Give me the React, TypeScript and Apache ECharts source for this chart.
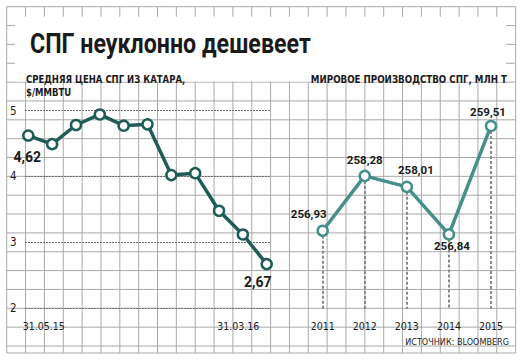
import React, { useEffect, useRef } from 'react';
import * as echarts from 'echarts';

// ---- data ----
const priceDates = ['31.05.15', '30.06.15', '31.07.15', '31.08.15', '30.09.15', '31.10.15', '30.11.15', '31.12.15', '31.01.16', '29.02.16', '31.03.16'];
const priceValues = [4.62, 4.49, 4.78, 4.94, 4.77, 4.79, 4.02, 4.05, 3.48, 3.12, 2.67];
const priceTicks = [2, 3, 4, 5];
const prodYears = ['2011', '2012', '2013', '2014', '2015'];
const prodValues = [256.93, 258.28, 258.01, 256.84, 259.51];

const TITLE = 'СПГ неуклонно дешевеет';
const SUB_LEFT_1 = 'СРЕДНЯЯ ЦЕНА СПГ ИЗ КАТАРА,';
const SUB_LEFT_2 = '$/MMBTU';
const SUB_RIGHT = 'МИРОВОЕ ПРОИЗВОДСТВО СПГ, МЛН Т';
const SOURCE = 'ИСТОЧНИК: BLOOMBERG';

// label placement (layout only)
const priceLabelOffsets: Record<number, [number, number]> = { 0: [-1, 21], 10: [-9, 18] };
const prodLabelOffsets: [number, number][] = [[-14, -17], [0, -16], [9, -17], [3, 12], [-3, -14]];

const NARROW = '"Liberation Sans Narrow", "DejaVu Sans Condensed", "Roboto", sans-serif';
const GRID_COLOR = '#a9a9a9';
const DARK = '#1f5c57';
const MID = '#45908a';
const TEXT = '#1a1a1a';

const fmt = (v: number) => v.toFixed(2).replace('.', ',');

function buildBackground() {
  const els: any[] = [];
  const x0 = 6.7, y0 = 6.7, cell = 18.85, cols = 27, rows = 18, bottom = 353;
  const right = x0 + cell * cols;
  for (let i = 0; i <= cols; i++) {
    const x = x0 + cell * i;
    els.push({ type: 'line', silent: true, z: -10, shape: { x1: x, y1: y0, x2: x, y2: bottom }, style: { stroke: GRID_COLOR, lineWidth: 1 } });
  }
  for (let j = 0; j <= rows; j++) {
    const y = y0 + cell * j;
    els.push({ type: 'line', silent: true, z: -10, shape: { x1: x0, y1: y, x2: right, y2: y }, style: { stroke: GRID_COLOR, lineWidth: 1 } });
  }
  els.push({ type: 'line', silent: true, z: -10, shape: { x1: x0, y1: bottom, x2: right, y2: bottom }, style: { stroke: GRID_COLOR, lineWidth: 1 } });
  els.push({ type: 'rect', silent: true, z: -9, shape: { x: 15, y: 16.7, width: 491, height: 64.9 }, style: { fill: '#ffffff' } });
  els.push({ type: 'text', z: 10, x: 30, y: 43.5, scaleX: 0.86, style: { text: TITLE, fill: TEXT, font: 'bold 27px Roboto, "DejaVu Sans", sans-serif', verticalAlign: 'middle' } });
  els.push({ type: 'text', z: 10, x: 26, y: 78.5, scaleX: 0.86, style: { text: SUB_LEFT_1, fill: TEXT, font: `bold 11px ${NARROW}`, verticalAlign: 'middle' } });
  els.push({ type: 'text', z: 10, x: 26, y: 92, scaleX: 0.86, style: { text: SUB_LEFT_2, fill: TEXT, font: `bold 11px ${NARROW}`, verticalAlign: 'middle' } });
  els.push({ type: 'text', z: 10, x: 507, y: 78.5, scaleX: 0.88, style: { text: SUB_RIGHT, fill: TEXT, font: `bold 11px ${NARROW}`, align: 'right', verticalAlign: 'middle' } });
  els.push({ type: 'text', z: 10, x: 509, y: 342, style: { text: SOURCE, fill: TEXT, font: `9px ${NARROW}`, align: 'right', verticalAlign: 'middle' } });
  return els;
}

export default function App() {
  const ref = useRef<HTMLDivElement>(null);
  useEffect(() => {
    if (!ref.current) return;
    const chart = echarts.init(ref.current, undefined, { renderer: 'svg' });
    const lastIdx = priceDates.length - 1;
    const option: any = {
      animation: false,
      backgroundColor: '#ffffff',
      graphic: buildBackground(),
      grid: [
        { left: 28.3, right: 257.3, top: 110.5, bottom: 54.7 },
        { left: 25, right: 254, top: 110.5, bottom: 54.7 },
        { left: 322.7, right: 33, top: 106.05, bottom: 53.9 },
      ],
      xAxis: [
        {
          gridIndex: 0,
          type: 'category',
          data: priceDates,
          boundaryGap: false,
          axisLine: { show: false },
          axisTick: { show: false },
          splitLine: { show: false },
          axisLabel: {
            interval: (i: number) => i === 0 || i === lastIdx,
            margin: 12,
            color: TEXT,
            fontSize: 10.5,
            fontFamily: NARROW,
            formatter: (v: string, i: number) => (i === 0 ? `{a|${v}}` : `{b|${v}}`),
            rich: {
              a: { padding: [0, 0, 0, 31], fontSize: 10.5, fontFamily: NARROW, color: TEXT },
              b: { padding: [0, 57, 0, 0], fontSize: 10.5, fontFamily: NARROW, color: TEXT },
            },
          },
        },
        { gridIndex: 1, type: 'value', show: false, min: 0, max: 1 },
        {
          gridIndex: 2,
          type: 'category',
          data: prodYears,
          boundaryGap: false,
          axisLine: { show: false },
          axisTick: { show: false },
          splitLine: { show: false },
          axisLabel: { margin: 11, color: TEXT, fontSize: 10.5, fontFamily: NARROW },
        },
      ],
      yAxis: [
        { gridIndex: 0, type: 'value', min: 2, max: 5, show: false },
        {
          gridIndex: 1,
          type: 'value',
          min: priceTicks[0],
          max: priceTicks[priceTicks.length - 1],
          interval: 1,
          axisLine: { show: false },
          axisTick: { show: false },
          axisLabel: { align: 'left', margin: 15, color: TEXT, fontSize: 11.5, fontFamily: NARROW },
          splitLine: { show: true, lineStyle: { color: '#6f6f6f', type: [2, 1], width: 1 } },
        },
        { gridIndex: 2, type: 'value', min: 255, max: 260, show: false },
      ],
      series: [
        {
          type: 'line',
          xAxisIndex: 0,
          yAxisIndex: 0,
          data: priceValues.map((v, i) => ({
            value: v,
            label: priceLabelOffsets[i]
              ? { show: true, position: 'inside', offset: priceLabelOffsets[i] }
              : { show: false },
          })),
          symbol: 'circle',
          symbolSize: 10,
          lineStyle: { color: DARK, width: 3.5 },
          itemStyle: { color: '#ffffff', borderColor: DARK, borderWidth: 2.5 },
          label: {
            color: TEXT,
            fontFamily: 'Roboto, sans-serif',
            fontWeight: 'bold',
            fontSize: 14,
            formatter: (p: any) => fmt(p.value),
          },
          z: 5,
        },
        {
          type: 'line',
          xAxisIndex: 2,
          yAxisIndex: 2,
          data: prodValues.map((v, i) => ({
            value: v,
            label: { show: true, position: 'inside', offset: prodLabelOffsets[i] },
          })),
          symbol: 'circle',
          symbolSize: 10,
          lineStyle: { color: MID, width: 3.5 },
          itemStyle: { color: '#ffffff', borderColor: MID, borderWidth: 2.5 },
          label: {
            color: TEXT,
            fontFamily: 'Roboto, sans-serif',
            fontWeight: 'bold',
            fontSize: 11.5,
            formatter: (p: any) => fmt(p.value),
          },
          markLine: {
            silent: true,
            symbol: ['none', 'none'],
            label: { show: false },
            lineStyle: { color: '#8a8a8a', type: [3, 2], width: 2 },
            data: prodValues.map((v, i) => [
              { coord: [i, v] },
              { coord: [i, 255] },
            ]),
            z: 1,
          },
          z: 5,
        },
      ],
    };
    chart.setOption(option);
    return () => chart.dispose();
  }, []);
  return (
    <div
      ref={ref}
      style={{ position: 'fixed', left: 0, top: 0, width: 524, height: 363, background: '#fff' }}
    />
  );
}
